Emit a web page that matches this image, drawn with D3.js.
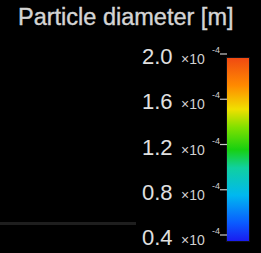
<!DOCTYPE html>
<html>
<head>
<meta charset="utf-8">
<script src="https://cdn.jsdelivr.net/npm/d3@7"></script>
<style>
  html, body { margin: 0; padding: 0; background: #000; }
  text { font-family: "Liberation Sans", Arial, sans-serif; }
</style>
</head>
<body>
<div id="chart"></div>
<script>
// colour bar data
const title = "Particle diameter [m]";
const tickValues = [0.4, 0.8, 1.2, 1.6, 2.0];
const tickLabels = ["0.4", "0.8", "1.2", "1.6", "2.0"];
const exponent = "-4";
const domainRange = [0.4, 2.0];
// gradient stops, bottom -> top (fraction of bar)
const stopOffsets = [0, 0.1, 0.25, 0.4, 0.5, 0.62, 0.72, 0.85, 1];
const stopColors = ["#1a1cf0", "#0a5cff", "#00b8f0", "#10d0a0", "#18d010", "#80e000", "#f0e000", "#ff8a00", "#f04a12"];

const W = 261, H = 253;

const svg = d3.select("#chart")
  .append("svg")
  .attr("width", W)
  .attr("height", H);

svg.append("rect").attr("width", W).attr("height", H).attr("fill", "#000");

// faint horizontal streak on the left
svg.append("rect")
  .attr("x", 0).attr("y", 222)
  .attr("width", 136).attr("height", 3)
  .attr("fill", "#1e1e1e");

// title
svg.append("text")
  .attr("x", 18)
  .attr("y", 25)
  .attr("fill", "#d4d4d4")
  .attr("stroke", "#d4d4d4")
  .attr("stroke-width", 0.4)
  .style("font-size", "23.5px")
  .text(title);

// value -> y position (label centre)
const y = d3.scaleLinear().domain(domainRange).range([237, 56]);

// gradient
const grad = svg.append("defs").append("linearGradient")
  .attr("id", "bar")
  .attr("x1", 0).attr("y1", 1).attr("x2", 0).attr("y2", 0);
grad.selectAll("stop")
  .data(stopOffsets)
  .join("stop")
  .attr("offset", d => d)
  .attr("stop-color", (d, i) => stopColors[i]);

const barTop = y(domainRange[1]) + 2;
const barBottom = y(domainRange[0]) + 4;
svg.append("rect")
  .attr("x", 226)
  .attr("y", barTop - 1)
  .attr("width", 24)
  .attr("height", barBottom - barTop + 2)
  .attr("fill", "#101018");
svg.append("rect")
  .attr("x", 227)
  .attr("y", barTop)
  .attr("width", 22)
  .attr("height", barBottom - barTop)
  .attr("fill", "url(#bar)");

// tick labels
const ticks = svg.selectAll("g.tick")
  .data(tickValues)
  .join("g")
  .attr("class", "tick")
  .attr("transform", d => `translate(0,${y(d)})`);

ticks.append("text")
  .attr("x", 142)
  .attr("y", 8)
  .attr("fill", "#e0e0e0")
  .style("font-size", "22px")
  .text((d, i) => tickLabels[i]);

ticks.append("text")
  .attr("x", 181)
  .attr("y", 8)
  .attr("fill", "#d0d0d0")
  .style("font-size", "14px")
  .text("\u00d710");

ticks.append("text")
  .attr("x", 212)
  .attr("y", -3)
  .attr("fill", "#d0d0d0")
  .style("font-size", "9px")
  .text(exponent);

ticks.append("line")
  .attr("x1", 220).attr("x2", 227)
  .attr("y1", -2).attr("y2", -2)
  .attr("stroke", "#c8c8c8")
  .attr("stroke-width", 1.2);
</script>
</body>
</html>
